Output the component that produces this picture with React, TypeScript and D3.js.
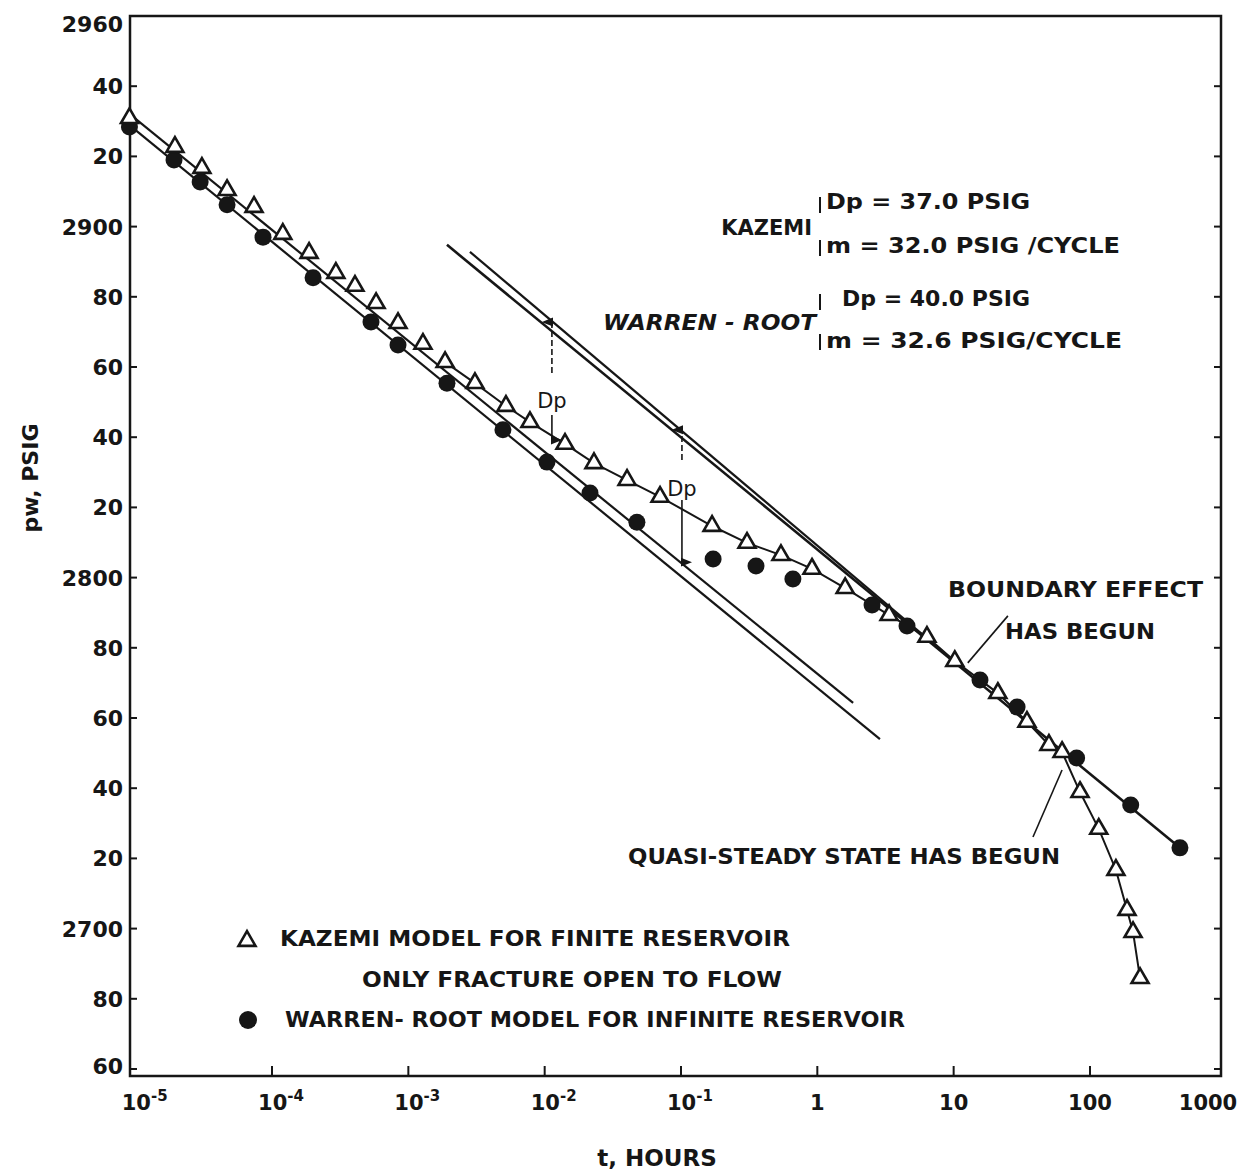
import React from 'react';
import * as d3 from 'd3';

// plot frame (pixels)
const W = 1251;
const H = 1173;
const frame = { left: 130, top: 16, right: 1221, bottom: 1076 };

// axes
const yTickValues = [2960, 2940, 2920, 2900, 2880, 2860, 2840, 2820, 2800, 2780, 2760, 2740, 2720, 2700, 2680, 2660];
const yTickLabels = ['2960', '40', '20', '2900', '80', '60', '40', '20', '2800', '80', '60', '40', '20', '2700', '80', '60'];
const xTickValues = [1e-5, 1e-4, 1e-3, 1e-2, 1e-1, 1, 10, 100, 1000];
const xTickBase = ['10', '10', '10', '10', '10', '1', '10', '100', '1000'];
const xTickExp = ['-5', '-4', '-3', '-2', '-1', '', '', '', ''];

// Kazemi model, finite reservoir (triangles)
const kazemiT = [9.0e-6, 1.94e-5, 3.06e-5, 4.68e-5, 7.38e-5, 1.2e-4, 1.87e-4, 2.94e-4, 4.06e-4, 5.8e-4,
  8.4e-4, 1.28e-3, 1.86e-3, 3.08e-3, 5.2e-3, 7.8e-3, 1.41e-2, 2.3e-2, 4.02e-2, 7.02e-2,
  0.169, 0.305, 0.541, 0.914, 1.6, 3.36, 6.37, 10.2, 21.1, 34.5,
  50.0, 62.4, 84.5, 116, 155, 187, 207, 233];
const kazemiP = [2930.9, 2922.7, 2916.7, 2910.4, 2905.6, 2897.9, 2892.5, 2886.8, 2883.1, 2878.2,
  2872.5, 2866.6, 2861.4, 2855.4, 2848.9, 2844.3, 2838.1, 2832.6, 2827.8, 2823.0,
  2814.7, 2809.9, 2806.4, 2802.5, 2797.0, 2789.3, 2783.1, 2776.2, 2767.1, 2758.9,
  2752.3, 2750.3, 2738.9, 2728.4, 2716.7, 2705.3, 2699.0, 2685.9];

// Warren-Root model, infinite reservoir (dots)
const warrenT = [9.0e-6, 1.91e-5, 2.97e-5, 4.68e-5, 8.59e-5, 2.0e-4, 5.32e-4, 8.4e-4, 1.92e-3, 4.94e-3,
  1.04e-2, 2.15e-2, 4.75e-2, 0.172, 0.355, 0.662, 2.52, 4.55, 15.6, 29.2,
  79.8, 199, 457];
const warrenP = [2928.4, 2919.0, 2912.7, 2906.2, 2897.0, 2885.4, 2872.8, 2866.3, 2855.4, 2842.1,
  2832.9, 2824.1, 2815.8, 2805.3, 2803.3, 2799.6, 2792.2, 2786.2, 2770.8, 2763.1,
  2748.6, 2735.2, 2723.0];

// straight semilog lines
const kazemiEarlyT = [9.0e-6, 1.83];
const kazemiEarlyP = [2932.1, 2764.3];
const warrenEarlyT = [9.0e-6, 2.88];
const warrenEarlyP = [2928.9, 2754.0];
const lateAT = [1.92e-3, 457];
const lateAP = [2894.8, 2723.0];
const lateBT = [2.83e-3, 10.2];
const lateBP = [2892.8, 2776.0];

// Dp markers
const dpT = [1.13e-2, 0.1016];
const dpUpper = [[2872.8, 2858.3], [2842.1, 2833.5]];
const dpLabelP = [2850.6, 2825.3];
const dpLower = [[2846.3, 2839.2], [2822.1, 2804.4]];

// leader lines
const boundaryLeaderT = [25.0, 12.7];
const boundaryLeaderP = [2789.1, 2775.7];
const quasiLeaderT = [38.2, 62.4];
const quasiLeaderP = [2726.1, 2745.2];

const x = d3.scaleLog().domain([1e-5, 1000]).range([135.7, 1226.3]);
const y = d3.scaleLinear().domain([2660, 2960]).range([1069, 16]);

const ink = '#161616';
const font = "'DejaVu Sans', 'Liberation Sans', sans-serif";

const toPts = (ts: number[], ps: number[]) => ts.map((t, i) => [t, ps[i]] as [number, number]);
const line = d3.line<[number, number]>().x((d) => x(d[0])).y((d) => y(d[1]));
const tri = d3.symbol().type(d3.symbolTriangle).size(125)() as string;

export default function App() {
  const kazemi = toPts(kazemiT, kazemiP);
  const warren = toPts(warrenT, warrenP);
  return (
    <svg width={W} height={H} viewBox={`0 0 ${W} ${H}`}
      style={{ display: 'block', position: 'absolute', left: 0, top: 0, background: '#fff' }}>
      <defs>
        <marker id="arr" viewBox="0 0 10 10" refX="5" refY="9" markerWidth="7" markerHeight="7" orient="auto-start-reverse">
          <path d="M1,10 L5,0 L9,10 Z" fill={ink} />
        </marker>
      </defs>
      <rect width={W} height={H} fill="#fff" />

      {/* frame */}
      <path
        d={`M${frame.left},${frame.top}H${frame.right}V${frame.bottom}H${frame.left}Z`}
        fill="none" stroke={ink} strokeWidth={2.5}
      />

      {/* y ticks */}
      <g fontFamily={font} fontWeight="bold" fontSize={22} fill={ink}>
        {yTickValues.map((v, i) => (
          <g key={v}>
            <line x1={frame.left} x2={frame.left + 7} y1={y(v)} y2={y(v)} stroke={ink} strokeWidth={2} />
            <line x1={frame.right} x2={frame.right - 7} y1={y(v)} y2={y(v)} stroke={ink} strokeWidth={2} />
            <text x={frame.left - 7} y={Math.min(Math.max(y(v), 24), 1066)} dy="0.36em" textAnchor="end">{yTickLabels[i]}</text>
          </g>
        ))}
      </g>

      {/* x ticks */}
      <g fontFamily={font} fontWeight="bold" fontSize={21} fill={ink}>
        {xTickValues.map((v, i) => {
          const cx = Math.min(x(v), frame.right - 13);
          return (
            <g key={v}>
              {v > 1e-5 && v < 1000 && (
                <line x1={x(v)} x2={x(v)} y1={frame.bottom} y2={frame.bottom - 10} stroke={ink} strokeWidth={2} />
              )}
              {xTickExp[i] ? (
                <text x={cx - 14} y={1110}>
                  {xTickBase[i]}
                  <tspan dy={-9} fontSize={15}>{xTickExp[i]}</tspan>
                </text>
              ) : (
                <text x={cx} y={1110} textAnchor="middle">{xTickBase[i]}</text>
              )}
            </g>
          );
        })}
      </g>

      {/* axis titles */}
      <text x={657} y={1166} textAnchor="middle" fontFamily={font} fontWeight="bold" fontSize={23} fill={ink}>t, HOURS</text>
      <text transform="translate(38,478) rotate(-90)" textAnchor="middle" fontFamily={font} fontWeight="bold" fontSize={22} fill={ink}>pw, PSIG</text>

      {/* straight lines */}
      <g fill="none" stroke={ink} strokeWidth={2.2}>
        <path d={line(toPts(kazemiEarlyT, kazemiEarlyP)) as string} />
        <path d={line(toPts(warrenEarlyT, warrenEarlyP)) as string} />
        <path d={line(toPts(lateAT, lateAP)) as string} strokeWidth={2.6} />
        <path d={line(toPts(lateBT, lateBP)) as string} />
      </g>

      {/* Kazemi curve */}
      <path d={line(kazemi.slice(12)) as string} fill="none" stroke={ink} strokeWidth={2} />

      {/* Dp arrows */}
      <g stroke={ink} strokeWidth={1.6} fill="none">
        {dpT.map((t, i) => (
          <g key={t}>
            <line x1={x(t)} x2={x(t)} y1={y(dpUpper[i][1])} y2={y(dpUpper[i][0])} strokeDasharray="6,3" markerEnd="url(#arr)" />
            <line x1={x(t)} x2={x(t)} y1={y(dpLower[i][0])} y2={y(dpLower[i][1])} markerEnd="url(#arr)" />
            <text x={x(t)} y={y(dpLabelP[i])} dy="0.36em" textAnchor="middle" stroke="none" fill={ink}
              fontFamily={font} fontSize={21}>Dp</text>
          </g>
        ))}
      </g>

      {/* leader lines */}
      <g stroke={ink} strokeWidth={1.6}>
        <path d={line(toPts(boundaryLeaderT, boundaryLeaderP)) as string} />
        <path d={line(toPts(quasiLeaderT, quasiLeaderP)) as string} />
      </g>

      {/* markers */}
      <g>
        {warren.map((d, i) => (
          <circle key={i} cx={x(d[0])} cy={y(d[1])} r={8.5} fill={ink} />
        ))}
        {kazemi.map((d, i) => (
          <path key={i} d={tri} transform={`translate(${x(d[0])},${y(d[1])})`} fill="#fff" stroke={ink} strokeWidth={2.6} />
        ))}
      </g>

      {/* annotations */}
      <g fontFamily={font} fontWeight="bold" fontSize={21} fill={ink}>
        <text x={812} y={235} textAnchor="end">KAZEMI</text>
        <text x={826} y={209} textLength={204} lengthAdjust="spacingAndGlyphs">Dp = 37.0 PSIG</text>
        <text x={826} y={253} textLength={294} lengthAdjust="spacingAndGlyphs">m = 32.0 PSIG /CYCLE</text>
        <text x={816} y={330} textAnchor="end" fontStyle="italic" textLength={213} lengthAdjust="spacingAndGlyphs">WARREN - ROOT</text>
        <text x={842} y={306} textLength={188} lengthAdjust="spacingAndGlyphs">Dp = 40.0 PSIG</text>
        <text x={826} y={348} textLength={296} lengthAdjust="spacingAndGlyphs">m = 32.6 PSIG/CYCLE</text>

        <text x={948} y={597} textLength={255} lengthAdjust="spacingAndGlyphs">BOUNDARY EFFECT</text>
        <text x={1005} y={639} textLength={150} lengthAdjust="spacingAndGlyphs">HAS BEGUN</text>
        <text x={628} y={864} textLength={432} lengthAdjust="spacingAndGlyphs">QUASI-STEADY STATE HAS BEGUN</text>

        <text x={280} y={946} textLength={510} lengthAdjust="spacingAndGlyphs">KAZEMI MODEL FOR FINITE RESERVOIR</text>
        <text x={362} y={987} textLength={420} lengthAdjust="spacingAndGlyphs">ONLY FRACTURE OPEN TO FLOW</text>
        <text x={285} y={1027} textLength={620} lengthAdjust="spacingAndGlyphs">WARREN- ROOT MODEL FOR INFINITE RESERVOIR</text>
      </g>
      <g stroke={ink} strokeWidth={2}>
        <line x1={820} x2={820} y1={197} y2={213} />
        <line x1={820} x2={820} y1={240} y2={256} />
        <line x1={820} x2={820} y1={294} y2={310} />
        <line x1={820} x2={820} y1={334} y2={350} />
      </g>

      {/* legend symbols */}
      <path d={tri} transform="translate(247,941)" fill="#fff" stroke={ink} strokeWidth={2.6} />
      <circle cx={248} cy={1020} r={9} fill={ink} />
    </svg>
  );
}
